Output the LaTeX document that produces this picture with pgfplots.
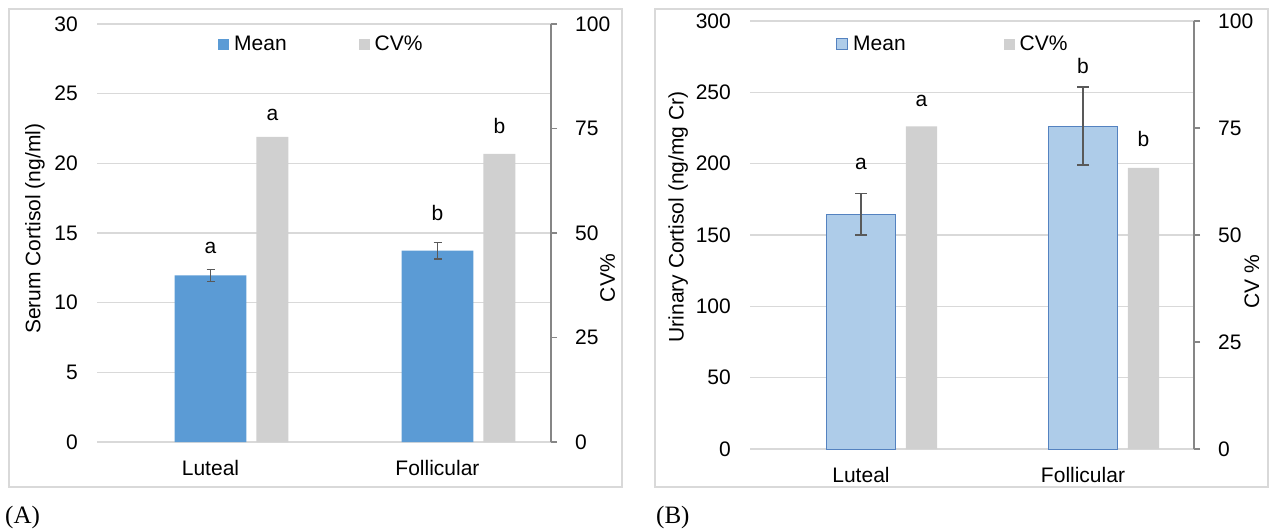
\documentclass[border=0pt]{standalone}
\usepackage{pgfplots}
\pgfplotsset{compat=1.18}
\usepackage{fontspec}
\setmainfont{Liberation Sans}
\newfontfamily\seriffont{Liberation Serif}
\definecolor{meanA}{RGB}{91,155,213}
\definecolor{cvgray}{RGB}{208,208,208}
\definecolor{meanB}{RGB}{174,204,233}
\definecolor{meanBedge}{RGB}{84,130,192}
\definecolor{gridc}{RGB}{217,217,217}
\definecolor{axisc}{RGB}{134,134,134}
\definecolor{errc}{RGB}{89,89,89}
\newcommand\fs{\fontsize{21}{25}\selectfont}
\pgfplotsset{
  every axis/.append style={
    scale only axis, anchor=south west, clip=false,
    /pgf/number format/assume math mode=true,
    tick label style={font=\fs},
    label style={font=\fs},
    legend style={font=\fs},
  },
  sqleg/.style={legend image code/.code={\path[##1] (0pt,-5.5pt) rectangle (11pt,5.5pt);}},
  leftax/.style={
    axis line style={draw=none},
    ymajorgrids, grid style={gridc, line width=1.2pt},
    major tick length=0pt, tick style={draw=none},
    xmin=-0.5, xmax=1.5, xtick={0,1}, xticklabels={Luteal,Follicular},
    yticklabel style={anchor=east, inner sep=0pt, xshift=-19pt},
    xticklabel style={anchor=base, inner sep=0pt, yshift=-33pt},
    legend columns=2, legend cell align=left,
  },
  rightax/.style={
    xmin=-0.5, xmax=1.5, ymin=0, ymax=100, ytick={0,25,50,75,100},
    axis x line=none, axis y line*=right,
    y axis line style={axisc, line width=1.5pt},
    ytick style={axisc, line width=1.5pt},
    tick align=outside, major tick length=6pt,
    yticklabel style={anchor=west, inner sep=0pt, xshift=18pt},
  },
}
\begin{document}
\begin{tikzpicture}[x=1pt,y=1pt]
\useasboundingbox (0,0) rectangle (1270,531);
\draw[gridc, line width=1.2pt] (9,44) rectangle (622,522);
\draw[gridc, line width=1.2pt] (655,44) rectangle (1268,522);
\node[font=\seriffont\fontsize{25}{30}\selectfont, anchor=west, inner sep=0pt] at (5,14) {(A)};
\node[font=\seriffont\fontsize{25}{30}\selectfont, anchor=west, inner sep=0pt] at (656,14) {(B)};

% ---------------- Panel A ----------------
\begin{axis}[leftax, at={(97pt,89pt)}, width=454pt, height=418pt,
  ymin=0, ymax=30, ytick={0,5,...,30},
  legend style={at={(axis description cs:0.2665,0.952)}, anchor=west,
    draw=none, fill=none, inner sep=0pt,
    nodes={inner xsep=5pt, inner ysep=0pt},
    /tikz/every even column/.append style={column sep=67pt}},
]
\addplot[ybar, sqleg, fill=meanA, draw=none, bar width=0.317, bar shift=0,
  error bars/.cd, y dir=both, y explicit,
  error bar style={errc, line width=1.5pt},
  error mark options={errc, line width=1.5pt, mark size=4pt, rotate=90}]
  coordinates {(0,11.95) +- (0,0.42) (1,13.73) +- (0,0.59)};
\addlegendentry{Mean}
\addlegendimage{sqleg, fill=cvgray, draw=none}
\addlegendentry{CV\%}
\node[font=\fs] at (axis cs:0,13.96) {a};
\node[font=\fs] at (axis cs:1,16.4) {b};
\node[font=\fs, rotate=90] at (axis description cs:-0.1366,0.51) {Serum Cortisol (ng/ml)};
\end{axis}
\begin{axis}[rightax, at={(97pt,89pt)}, width=454pt, height=418pt]
\addplot[ybar, fill=cvgray, draw=none, bar width=0.141, bar shift=0.273]
  coordinates {(0,73.0) (1,68.9)};
\node[font=\fs] at (axis cs:0.273,78.2) {a};
\node[font=\fs] at (axis cs:1.273,75.6) {b};
\node[font=\fs, rotate=90] at (axis description cs:1.125,0.392) {CV\%};
\end{axis}

% ---------------- Panel B ----------------
\begin{axis}[leftax, at={(750pt,82pt)}, width=444pt, height=428pt,
  ymin=0, ymax=300, ytick={0,50,...,300},
  legend style={at={(axis description cs:0.1937,0.946)}, anchor=west,
    draw=none, fill=none, inner sep=0pt,
    nodes={inner xsep=5pt, inner ysep=0pt},
    /tikz/every even column/.append style={column sep=93pt}},
]
\addplot[ybar, sqleg, fill=meanB, draw=meanBedge, line width=1pt, bar width=0.315, bar shift=0,
  error bars/.cd, y dir=both, y explicit,
  error bar style={errc, line width=1.5pt},
  error mark options={errc, line width=1.5pt, mark size=6pt, rotate=90}]
  coordinates {(0,164.6) +- (0,14.6) (1,226.3) +- (0,27.4)};
\addlegendentry{Mean}
\addlegendimage{sqleg, fill=cvgray, draw=none}
\addlegendentry{CV\%}
\node[font=\fs] at (axis cs:0,200.1) {a};
\node[font=\fs] at (axis cs:1,268.8) {b};
\node[font=\fs, rotate=90] at (axis description cs:-0.162,0.542) {Urinary Cortisol (ng/mg Cr)};
\end{axis}
\begin{axis}[rightax, at={(750pt,82pt)}, width=444pt, height=428pt]
\addplot[ybar, fill=cvgray, draw=none, bar width=0.14, bar shift=0.2725]
  coordinates {(0,75.4) (1,65.7)};
\node[font=\fs] at (axis cs:0.2725,81.3) {a};
\node[font=\fs] at (axis cs:1.2725,72.5) {b};
\node[font=\fs, rotate=90] at (axis description cs:1.1306,0.39) {CV \%};
\end{axis}
\end{tikzpicture}
\end{document}
